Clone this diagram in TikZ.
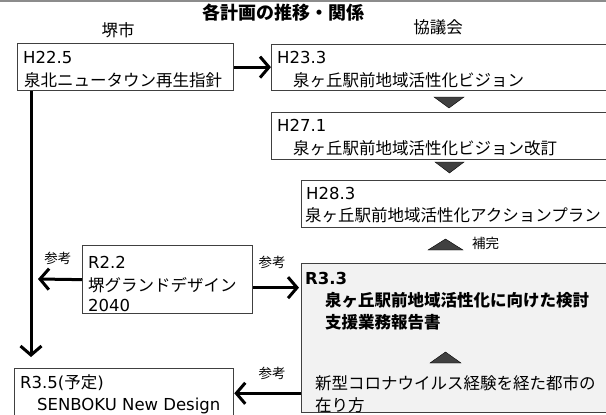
\documentclass[tikz,border=0pt]{standalone}
\usepackage{fontspec}
\setmainfont{Noto Sans CJK JP}
\newfontfamily\lat{DejaVu Sans}
\usetikzlibrary{arrows.meta}
\definecolor{boxline}{HTML}{404040}
\definecolor{boxfill}{HTML}{F2F2F2}
\definecolor{trifill}{HTML}{404040}
\definecolor{topline}{HTML}{8C8C8C}
\begin{document}
\begin{tikzpicture}[x=1pt,y=-1pt,
  planbox/.style={draw=boxline, line width=1.3pt, fill=white, rectangle, inner sep=0pt, anchor=north west},
  txt/.style={anchor=base west, inner sep=0pt, font=\fontsize{16.5}{20}\selectfont},
  btxt/.style={anchor=base west, inner sep=0pt, font=\fontsize{16.5}{20}\selectfont\bfseries},
  lbl/.style={anchor=base, inner sep=0pt, font=\fontsize{13.5}{16}\selectfont},
  head/.style={anchor=base, inner sep=0pt, font=\fontsize{16.5}{20}\selectfont},
  bigarrow/.style={line width=3pt, -{Straight Barb[length=9pt,width=21pt]}},
  trimark/.style={fill=trifill}
]
\useasboundingbox (0,0) rectangle (606,415);
\draw[topline, line width=1.5pt] (0,1) -- (606,1);

% title and column heads
\node[anchor=base, inner sep=0pt, font=\fontsize{18}{22}\selectfont\bfseries] (title) at (283,19.8) {各計画の推移・関係};
\node[head] (hsakai) at (118,36.3) {堺市};
\node[head] (hkyo) at (438,33.3) {協議会};

% boxes
\node[planbox, minimum width=216pt, minimum height=47pt] (A) at (17,43) {};
\node[planbox, minimum width=349pt, minimum height=46pt] (B) at (271,44) {};
\node[planbox, minimum width=349pt, minimum height=47pt] (C) at (271,112) {};
\node[planbox, minimum width=319pt, minimum height=47pt] (D) at (301,180) {};
\node[planbox, fill=boxfill, minimum width=319pt, minimum height=149pt] (E) at (301,263) {};
\node[planbox, minimum width=170pt, minimum height=68pt] (F) at (82,245) {};
\node[planbox, minimum width=219pt, minimum height=60pt] (G) at (14,368) {};

% box texts
\node[txt] (a1) at (23,63.3) {\lat H22.5};
\node[txt] (a2) at (24,86.3) {泉北ニュータウン再生指針};
\node[txt] (b1) at (277,63.3) {\lat H23.3};
\node[txt] (b2) at (293,86.3) {泉ヶ丘駅前地域活性化ビジョン};
\node[txt] (c1) at (277,131.3) {\lat H27.1};
\node[txt] (c2) at (293,154.3) {泉ヶ丘駅前地域活性化ビジョン改訂};
\node[txt] (d1) at (306,199.3) {\lat H28.3};
\node[txt] (d2) at (305,221.3) {泉ヶ丘駅前地域活性化アクションプラン};
\node[btxt] (e1) at (305,284.3) {\lat\bfseries R3.3};
\node[btxt] (e2) at (325,306.3) {泉ヶ丘駅前地域活性化に向けた検討};
\node[btxt] (e3) at (325,328.3) {支援業務報告書};
\node[txt] (e4) at (315,389.3) {新型コロナウイルス経験を経た都市の};
\node[txt] (e5) at (315,411.3) {在り方};
\node[txt] (f1) at (88,268.3) {\lat R2.2};
\node[txt] (f2) at (88,291.3) {堺グランドデザイン};
\node[txt] (f3) at (88,311.3) {\lat 2040};
\node[txt] (g1) at (20,388.3) {{\lat R3.5(}予定{\lat )}};
\node[txt] (g2) at (37,410.3) {\lat SENBOKU New Design};

% triangles
\draw[trimark] (434,97) -- (464,97) -- (449,108) -- cycle;
\draw[trimark] (435,162) -- (464,162) -- (449.5,173) -- cycle;
\draw[trimark] (428,250) -- (463,250) -- (445.5,239) -- cycle;
\draw[trimark] (430,363) -- (461,363) -- (445.5,352) -- cycle;
\node[lbl, anchor=base west] (hokan) at (472,248.1) {補完};

% connectors
\draw[bigarrow] (A.east) -- (A.east -| B.west);
\draw[bigarrow, shorten >=11pt] ([xshift=14pt]A.south west) -- ([xshift=17pt]G.north west);
\coordinate (fleft) at (38,279);
\draw[bigarrow] (F.west) -- (fleft);
\node[lbl] (ref1) at (58,263.1) {参考};
\draw[bigarrow, shorten >=2pt] ([yshift=-8pt]F.east) -- ([yshift=-8pt]F.east -| E.west);
\node[lbl] (ref2) at (272,267.1) {参考};
\coordinate (eout) at ([yshift=20pt]E.south west);
\draw[bigarrow] (eout) -- (eout -| G.east);
\node[lbl] (ref3) at (272,378.1) {参考};
\end{tikzpicture}
\end{document}
